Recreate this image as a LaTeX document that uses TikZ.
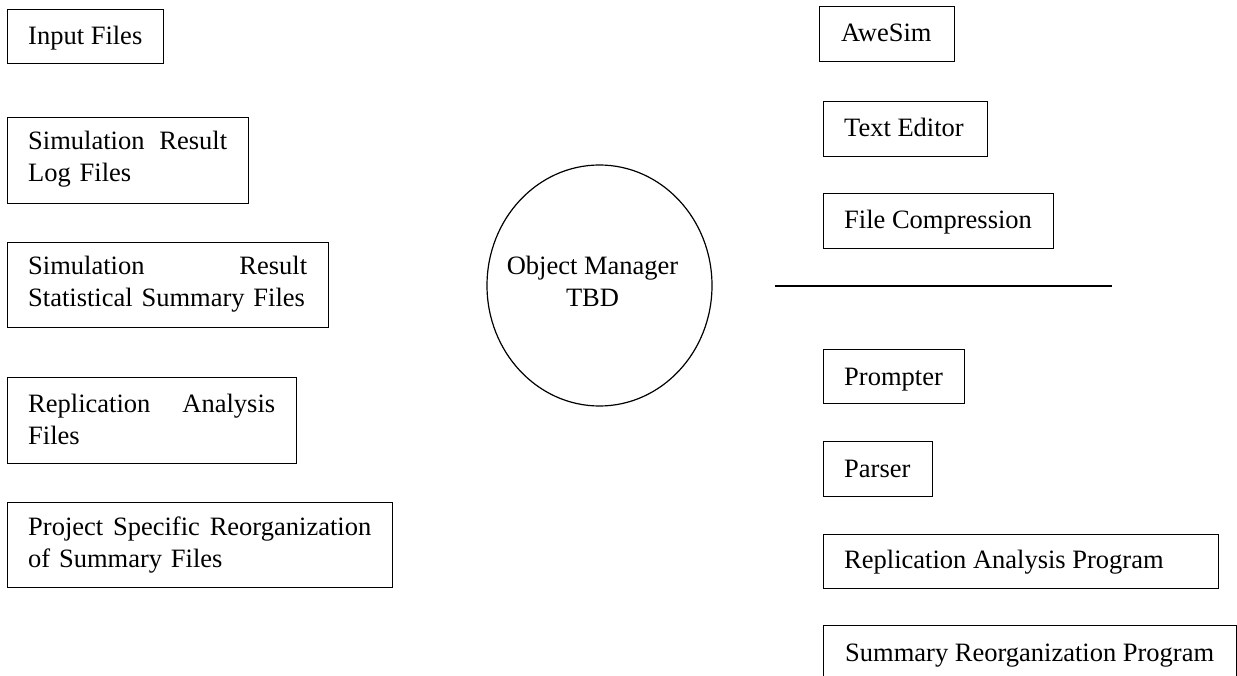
\documentclass[tikz,border=0pt]{standalone}
\usepackage{fontspec}
\setmainfont{Liberation Serif}
\usetikzlibrary{shapes.geometric}
\begin{document}
\begin{tikzpicture}[x=1pt,y=-1pt,
  boxst/.style={draw, line width=1.2pt, rectangle, inner sep=0pt, anchor=north west},
  txt/.style={inner sep=0pt, anchor=base west, font=\fontsize{26.5}{32}\selectfont, align=left},
  ctxt/.style={inner sep=0pt, anchor=base, font=\fontsize{26.5}{32}\selectfont},
  sep/.style={line width=1.2pt}
]
\useasboundingbox (0,0) rectangle (1237,676);
% left column
\node[boxst, minimum width=156pt, minimum height=54pt] (inB) at (7,9) {};
\node[txt] (inT) at (28,45) {Input Files};
\node[boxst, minimum width=241pt, minimum height=86pt] (logB) at (7,117) {};
\node[txt, text width=199pt] (logT) at (28,150) {Simulation\hfill Result\\Log Files};
\node[boxst, minimum width=321pt, minimum height=85pt] (statB) at (7,242) {};
\node[txt, text width=279pt] (statT) at (28,275) {Simulation\hfill Result\\Statistical Summary Files};
\node[boxst, minimum width=289pt, minimum height=86pt] (repB) at (7,377) {};
\node[txt, text width=247pt] (repT) at (28,412) {Replication\hfill Analysis\\Files};
\node[boxst, minimum width=385pt, minimum height=85pt] (projB) at (7,502) {};
\node[txt, text width=343pt] (projT) at (28,535) {Project\hfill Specific\hfill Reorganization\\of Summary Files};
% centre
\node[draw, ellipse, line width=1.2pt, minimum width=225pt, minimum height=241pt, inner sep=0pt] (om) at (599.5,285.5) {};
\node[ctxt] (omT) at (592.5,275) {\begin{tabular}[t]{@{}c@{}}Object Manager\\TBD\end{tabular}};
% right column
\node[boxst, minimum width=135pt, minimum height=55pt] (aweB) at (819,6) {};
\node[txt] (aweT) at (841,42) {AweSim};
\node[boxst, minimum width=164pt, minimum height=55pt] (tedB) at (823,101) {};
\node[txt] (tedT) at (844,137) {Text Editor};
\node[boxst, minimum width=230pt, minimum height=55pt] (fcB) at (823,193) {};
\node[txt] (fcT) at (844,229) {File Compression};
\coordinate (sepL) at (775,286);
\coordinate (sepR) at (1112,286);
\draw[sep] (sepL) -- (sepR);
\node[boxst, minimum width=141pt, minimum height=54pt] (prB) at (823,349) {};
\node[txt] (prT) at (844,385) {Prompter};
\node[boxst, minimum width=109pt, minimum height=55pt] (paB) at (823,441) {};
\node[txt] (paT) at (844,477) {Parser};
\node[boxst, minimum width=395pt, minimum height=54pt] (rapB) at (823,534) {};
\node[txt] (rapT) at (844,568) {Replication Analysis Program};
\node[boxst, minimum width=413pt, minimum height=56pt] (srpB) at (823,625) {};
\node[txt] (srpT) at (845,661) {Summary Reorganization Program};
\end{tikzpicture}
\end{document}
